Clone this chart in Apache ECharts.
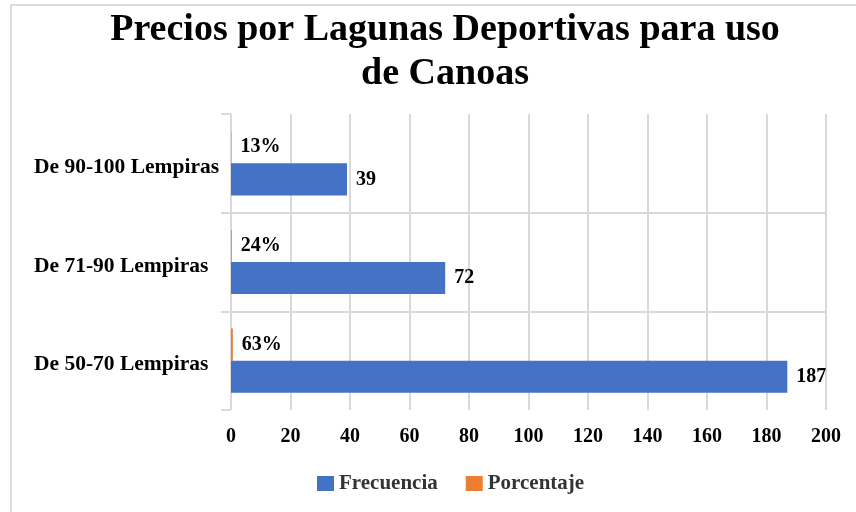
<!DOCTYPE html>
<html>
<head>
<meta charset="utf-8">
<script src="https://cdn.jsdelivr.net/npm/echarts@6/dist/echarts.min.js"></script>
<style>
  html, body { margin: 0; padding: 0; background: #fff; }
  #wrap { position: relative; width: 856px; height: 512px; }
  #frame { position: absolute; left: 10px; top: 4px; right: 0; bottom: 0;
           border-left: 2px solid #dcdcdc; border-top: 2px solid #dcdcdc; }
  #chart { position: absolute; left: 0; top: 0; width: 856px; height: 512px; }
</style>
</head>
<body>
<div id="wrap"><div id="frame"></div><div id="chart"></div></div>
<script>
const titleText = 'Precios por Lagunas Deportivas para uso\nde Canoas';
const categories = ['De 50-70 Lempiras', 'De 71-90 Lempiras', 'De 90-100 Lempiras'];
const frecuencia = [187, 72, 39];
const porcentaje = [0.63, 0.24, 0.13];
const seriesNames = ['Frecuencia', 'Porcentaje'];
const xTicks = { min: 0, max: 200, interval: 20 };

const FONT = '"Liberation Serif", "Times New Roman", serif';
const labelStyle = { fontFamily: FONT, fontWeight: 'bold', fontSize: 20, color: '#000' };
const chart = echarts.init(document.getElementById('chart'), null, { renderer: 'canvas' });
chart.setOption({
  backgroundColor: 'transparent',
  animation: false,
  title: {
    text: titleText,
    left: 440, top: 3,
    textAlign: 'center',
    textStyle: { fontFamily: FONT, fontWeight: 'bold', fontSize: 38, lineHeight: 44, color: '#000' }
  },
  legend: {
    data: seriesNames,
    left: 312, top: 468,
    itemWidth: 17, itemHeight: 15, itemGap: 28,
    icon: 'rect',
    textStyle: { fontFamily: FONT, fontWeight: 'bold', fontSize: 21, color: '#333' }
  },
  grid: { left: 231, right: 30, top: 114, bottom: 102, containLabel: false },
  xAxis: {
    type: 'value',
    min: xTicks.min, max: xTicks.max, interval: xTicks.interval,
    axisLine: { show: false },
    axisTick: { show: false },
    axisLabel: Object.assign({ margin: 17 }, labelStyle),
    splitLine: { show: true, lineStyle: { color: '#d9d9d9', width: 2 } }
  },
  yAxis: {
    type: 'category',
    data: categories,
    axisLine: { show: false },
    axisTick: { show: true, length: 10, lineStyle: { color: '#d9d9d9', width: 2 } },
    axisLabel: Object.assign({}, labelStyle, { fontSize: 21.5, align: 'left', margin: 197,
                verticalAlign: 'top', lineHeight: 8 }),
    splitLine: { show: true, showMinLine: false, showMaxLine: false, lineStyle: { color: '#d9d9d9', width: 2 } }
  },
  series: [
    {
      name: seriesNames[1], type: 'bar', data: porcentaje,
      barGap: '0%', barCategoryGap: '35%',
      itemStyle: { color: '#ED7D31' },
      label: Object.assign({ show: true, position: 'right', distance: 9,
               formatter: p => Math.round(p.value * 100) + '%' }, labelStyle)
    },
    {
      name: seriesNames[0], type: 'bar', data: frecuencia,
      barGap: '0%', barCategoryGap: '35%',
      itemStyle: { color: '#4472C4' },
      label: Object.assign({ show: true, position: 'right', distance: 9 }, labelStyle)
    }
  ]
});
</script>
</body>
</html>
